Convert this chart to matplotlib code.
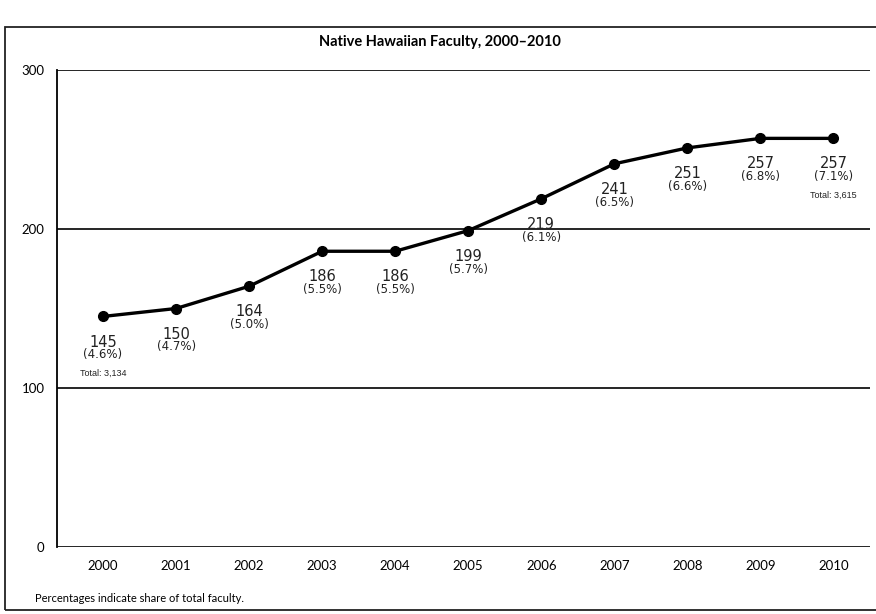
"""Native Hawaiian faculty line chart, 2000-2010."""

import matplotlib.pyplot as plt
from matplotlib.patches import Rectangle

years = [2000, 2001, 2002, 2003, 2004, 2005, 2006, 2007, 2008, 2009, 2010]
faculty = [145, 150, 164, 186, 186, 199, 219, 241, 251, 257, 257]
shares = ["4.6%", "4.7%", "5.0%", "5.5%", "5.5%", "5.7%", "6.1%", "6.5%", "6.6%", "6.8%", "7.1%"]
totals = {2000: "Total: 3,134", 2010: "Total: 3,615"}
y_ticks = [0, 100, 200, 300]

TEXT_FONT = ["Lato", "DejaVu Sans"]
LABEL_FONT = ["DejaVu Sans"]
NARROW_FONT = ["Liberation Sans Narrow", "Liberation Sans", "DejaVu Sans"]

fig = plt.figure(figsize=(8.76, 6.14), dpi=100)

# outer frame (right side runs off the page like the scan)
fig.patches.append(Rectangle((5 / 876, 4 / 614), 1.0, 583 / 614, transform=fig.transFigure,
                             fill=False, edgecolor="#222222", linewidth=1.3))

ax = fig.add_axes([57 / 876, 67 / 614, 813 / 876, 477 / 614])
ax.plot(years, faculty, color="black", linewidth=2.4, marker="o", markersize=7, zorder=3)

for x, v, s in zip(years, faculty, shares):
    ax.annotate(str(v), xy=(x, v), xytext=(0, -13), textcoords="offset points",
                ha="center", va="top", fontsize=10.5, family=LABEL_FONT, color="#222222")
    ax.annotate(f"({s})", xy=(x, v), xytext=(0, -23), textcoords="offset points",
                ha="center", va="top", fontsize=8.5, family=LABEL_FONT, color="#222222")
    if x in totals:
        ax.annotate(totals[x], xy=(x, v), xytext=(0, -38), textcoords="offset points",
                    ha="center", va="top", fontsize=6.5, family=NARROW_FONT, color="#222222")

ax.set_xlim(1999.37, 2010.5)
ax.set_ylim(0, 300)
ax.set_yticks(y_ticks)
ax.set_yticklabels([str(t) for t in y_ticks], family=TEXT_FONT, fontsize=9.5)
ax.set_xticks(years)
ax.set_xticklabels([str(y) for y in years], family=TEXT_FONT, fontsize=9.5)
ax.tick_params(length=0, pad=9)

for side in ["top", "right", "bottom"]:
    ax.spines[side].set_visible(False)
ax.spines["left"].set_linewidth(1.3)
ax.grid(axis="y", color="black", linewidth=1.2)
ax.set_axisbelow(True)

fig.text(440 / 876, 1 - 42 / 614, "Native Hawaiian Faculty, 2000\u20132010",
         ha="center", va="center", fontsize=10.5, fontweight="bold", family=TEXT_FONT)
fig.text(35 / 876, 1 - 598 / 614, "Percentages indicate share of total faculty.",
         ha="left", va="center", fontsize=8, family=TEXT_FONT)

fig.savefig("out.png", dpi=100)
